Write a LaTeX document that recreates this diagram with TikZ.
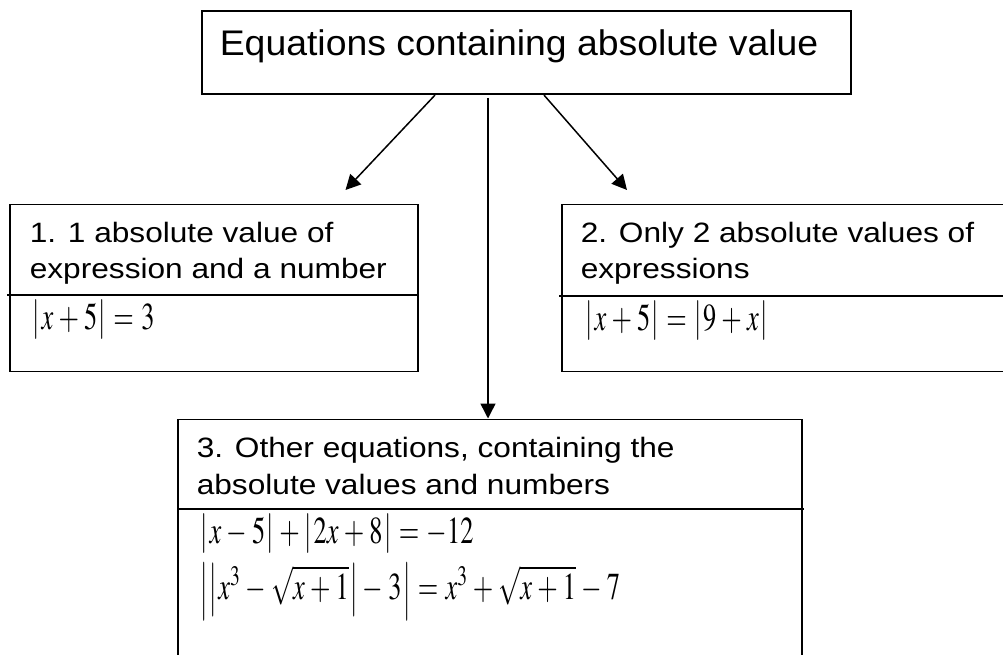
\documentclass[tikz,border=0pt]{standalone}
\usepackage{mathptmx}
\usepackage{graphicx}
\usepackage[no-math]{fontspec}
\newfontfamily\titlefont{Liberation Sans}[FakeStretch=1.05]
\newfontfamily\boxfont{Liberation Sans}[FakeStretch=1.13]
\usetikzlibrary{arrows.meta}
\medmuskip=3.5mu
\thickmuskip=5mu
% tall absolute-value bar: #1 vertical scale, #2 raise
\newcommand\sbar[2]{\raisebox{#2}{\scalebox{1}[#1]{$\vert$}}}
\newcommand\absv[1]{\mathopen{\sbar{1.05}{-0.01em}}\mkern1mu#1\mkern1mu\mathclose{\sbar{1.05}{-0.01em}}}
% equations are drawn narrower and taller, as in the reference
\newcommand\eqtall[1]{\scalebox{0.88}[1.27]{$#1$}}
\begin{document}
\begin{tikzpicture}[x=1pt,y=-1pt,line width=1.6pt,
  box/.style={draw,rectangle,inner sep=0pt,anchor=north west},
  ttl/.style={inner sep=0pt,anchor=base west,font=\titlefont\fontsize{35.6}{40}\selectfont},
  txt/.style={inner sep=0pt,anchor=base west,font=\boxfont\fontsize{28}{36}\selectfont},
  eq/.style={inner sep=0pt,anchor=base west,font=\fontsize{30}{36}\selectfont},
  arr/.style={line width=1.5pt,-{Triangle[length=15pt,width=15pt]}}]
\useasboundingbox (0,0) rectangle (1003,655);
% boxes
\node[box,minimum width=649pt,minimum height=83pt] (top) at (201,10.5) {};
\node[box,minimum width=408pt,minimum height=167pt] (b1) at (9,203.5) {};
\node[box,minimum width=460pt,minimum height=167pt] (b2) at (561,203.5) {};
\node[box,minimum width=624pt,minimum height=260pt] (b3) at (177,418.5) {};
% dividers
\draw (7,295) -- (417,295);
\draw (559,296) -- (1010,296);
\draw (177,509) -- (804,509);
% texts
\node[ttl] (t0) at (219,55.5) {Equations containing absolute value};
\node[txt] (t11) at (29,242) {1. 1 absolute value of};
\node[txt] (t12) at (29,278) {expression and a number};
\node[txt] (t21) at (580,242) {2. Only 2 absolute values of};
\node[txt] (t22) at (580,278) {expressions};
\node[txt] (t31) at (196,457) {3. Other equations, containing the};
\node[txt] (t32) at (196,494) {absolute values and numbers};
% equations
\node[eq] (e1) at (32,329.5) {\eqtall{\absv{x+5}=3}};
\node[eq] (e2) at (585,330) {\eqtall{\absv{x+5}=\absv{9+x}}};
\node[eq] (e3) at (200,543.5) {\eqtall{\absv{x-5}+\absv{2x+8}=-12}};
\node[eq] (e4) at (200,599) {\eqtall{\mathopen{\sbar{1.55}{-0.19em}}\mkern1mu\mathopen{\sbar{1.42}{-0.12em}}\mkern1mu x^3-\sqrt{x+1}\mkern1mu\mathclose{\sbar{1.42}{-0.12em}}-3\mkern1mu\mathclose{\sbar{1.55}{-0.19em}}=x^3+\sqrt{x+1}-7}};
% arrows
\coordinate (a1) at (345.5,190);
\coordinate (a2) at (627,190);
\coordinate (m0) at (488,98);
\draw[arr] ([xshift=234pt]top.south west) -- (a1);
\draw[arr] ([xshift=343pt]top.south west) -- (a2);
\draw[arr] (m0) -- (m0 |- b3.north);
\end{tikzpicture}
\end{document}
